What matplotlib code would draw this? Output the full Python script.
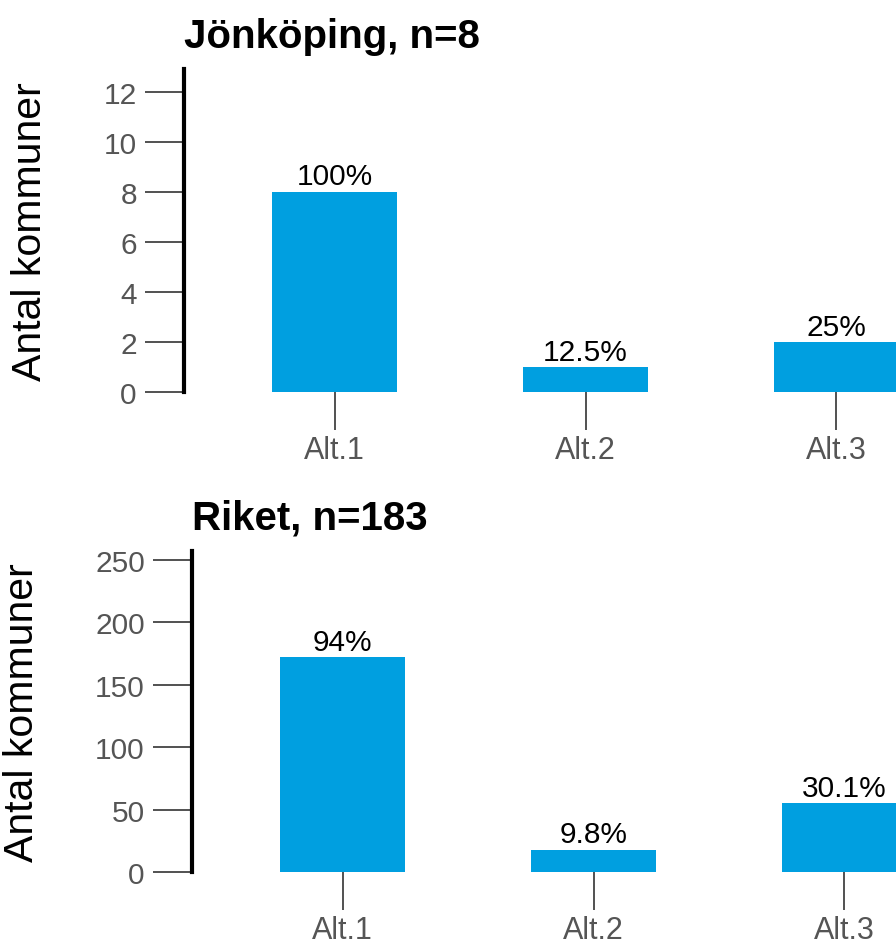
import matplotlib.pyplot as plt

plt.rcParams['font.family'] = ['Liberation Sans', 'DejaVu Sans']

categories = ['Alt.1', 'Alt.2', 'Alt.3']

jkp_title = 'Jönköping, n=8'
jkp_counts = [8, 1, 2]
jkp_pct = ['100%', '12.5%', '25%']
jkp_yticks = [0, 2, 4, 6, 8, 10, 12]

riket_title = 'Riket, n=183'
riket_counts = [172, 18, 55]
riket_pct = ['94%', '9.8%', '30.1%']
riket_yticks = [0, 50, 100, 150, 200, 250]

bar_color = '#009fe0'

fig = plt.figure(figsize=(8.96, 9.45), dpi=100)

def panel(rect, title, counts, pct, yticks, ytop, label_x):
    ax = fig.add_axes(rect)
    x = list(range(len(categories)))
    bars = ax.bar(x, counts, width=0.5, color=bar_color)
    ax.bar_label(bars, labels=pct, padding=1, fontsize=21.5, color='black')
    ax.set_xlim(-0.6, 2.6)
    ax.set_ylim(0, ytop)
    ax.set_xticks(x)
    ax.set_xticklabels(categories)
    ax.set_yticks(yticks)
    for s in ['top', 'right', 'bottom']:
        ax.spines[s].set_visible(False)
    ax.spines['left'].set_linewidth(3)
    ax.spines['left'].set_color('black')
    ax.tick_params(axis='y', length=28, width=1.2, color='#333333',
                   labelcolor='#555555', labelsize=21.5, pad=6)
    ax.tick_params(axis='x', length=27, width=1.2, color='#333333',
                   labelcolor='#555555', labelsize=22, pad=4)
    ax.set_title(title, loc='left', fontsize=29, fontweight='bold', pad=16)
    ax.set_ylabel('Antal kommuner', fontsize=29.5, va='center')
    ax.yaxis.set_label_coords(label_x, 0.5)
    return ax

panel([184/896, (945-393)/945, 803/896, (393-70)/945],
      jkp_title, jkp_counts, jkp_pct, jkp_yticks, 12.9, -0.192)
panel([192/896, (945-873)/945, 803/896, (873-552)/945],
      riket_title, riket_counts, riket_pct, riket_yticks, 257, -0.212)

fig.savefig('out.png', dpi=100)
